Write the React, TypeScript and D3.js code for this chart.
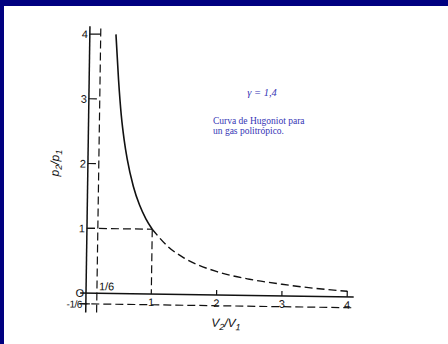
import React from "react";
import * as d3 from "d3";

// Hugoniot curve for a polytropic gas (gamma = 1.4), read in two pieces:
// the strong-shock branch (solid) and the expansion branch (dashed).
const vSolid = [0.4, 0.45, 0.5, 0.55, 0.6, 0.7, 0.8, 0.9, 1.0];
const pSolid = [4.0, 3.3, 2.75, 2.37, 2.08, 1.66, 1.37, 1.16, 1.0];
const vDashed = [1.0, 1.25, 1.5, 2.0, 2.5, 3.0, 3.5, 4.0];
const pDashed = [1.0, 0.73, 0.56, 0.36, 0.25, 0.18, 0.125, 0.087];

const xTicks = [1, 2, 3, 4];
const yTicks = [1, 2, 3, 4];
const yTickLabels = ["1", "2", "3", "4"];
const xTickLabels = ["1", "2", "3", "4"];

const W = 448;
const H = 344;
const ox = 86;
const oy = 293;
const unitX = 65.3;
const unitY = 64.75;

export default function App() {
  const x = d3.scaleLinear().domain([0, 4]).range([ox, ox + 4 * unitX]);
  const y = d3.scaleLinear().domain([0, 4]).range([oy, oy - 4 * unitY]);

  const line = d3
    .line<[number, number]>()
    .x((d) => x(d[0]))
    .y((d) => y(d[1]))
    .curve(d3.curveMonotoneX);

  const solidPts = vSolid.map((v, i) => [v, pSolid[i]] as [number, number]);
  const dashedPts = vDashed.map((v, i) => [v, pDashed[i]] as [number, number]);

  const ink = "#111";
  const dash = "8 4";
  const sixth = 1 / 6;
  const axisFont = "Liberation Sans, Arial, sans-serif";
  const noteColor = "#3535b5";

  return (
    <svg
      width={W}
      height={H}
      style={{ position: "absolute", left: 0, top: 0, display: "block" }}
    >
      <rect x={0} y={0} width={W} height={H} fill="#000080" />
      <rect x={4} y={6} width={W - 4} height={H - 6} fill="#ffffff" />

      <g transform={`rotate(0.85 ${ox} ${oy})`}>
        {/* axes */}
        <line x1={x(0)} y1={y(-0.3)} x2={x(0)} y2={y(4.12)} stroke={ink} strokeWidth={1.5} />
        <line x1={x(-0.09)} y1={y(0)} x2={x(4.1)} y2={y(0)} stroke={ink} strokeWidth={1.5} />

        {/* reference dashed lines */}
        <line x1={x(sixth)} y1={y(-0.3)} x2={x(sixth)} y2={y(4.12)} stroke={ink} strokeWidth={1.2} strokeDasharray={dash} />
        <line x1={x(-0.1)} y1={y(-sixth)} x2={x(4.1)} y2={y(-sixth)} stroke={ink} strokeWidth={1.2} strokeDasharray={dash} />
        <line x1={x(0)} y1={y(1)} x2={x(1)} y2={y(1)} stroke={ink} strokeWidth={1.2} strokeDasharray={dash} />
        <line x1={x(1)} y1={y(1)} x2={x(1)} y2={y(0)} stroke={ink} strokeWidth={1.2} strokeDasharray={dash} />

        {/* y ticks */}
        {yTicks.map((t, i) => (
          <g key={`yt${t}`}>
            <line x1={x(0)} y1={y(t)} x2={x(0) + (t === 4 ? 11 : 8)} y2={y(t)} stroke={ink} strokeWidth={1.2} />
            <text x={x(0) - 2} y={y(t) + 4} textAnchor="end" fontSize={11} fontFamily={axisFont} fill={ink}>
              {yTickLabels[i]}
            </text>
          </g>
        ))}
        <line x1={x(0) - 4} y1={y(-sixth)} x2={x(0) + 4} y2={y(-sixth)} stroke={ink} strokeWidth={1.2} />
        <text x={x(0) - 2} y={y(0) + 4} textAnchor="end" fontSize={11} fontFamily={axisFont} fill={ink}>
          O
        </text>
        <text x={x(0) - 4} y={y(-sixth) + 4} textAnchor="end" fontSize={10} fontFamily={axisFont} fill={ink} letterSpacing={-0.5}>
          -1/6
        </text>
        <text x={x(sixth) + 2} y={y(0) - 3} fontSize={11} fontFamily={axisFont} fill={ink}>
          1/6
        </text>

        {/* x ticks */}
        {xTicks.map((t, i) => (
          <g key={`xt${t}`}>
            {t > 1 && (
              <line x1={x(t)} y1={y(0)} x2={x(t)} y2={y(0) - (t === 4 ? 6 : 5)} stroke={ink} strokeWidth={1.2} />
            )}
            <text x={x(t)} y={y(0) + 12} textAnchor="middle" fontSize={11} fontFamily={axisFont} fill={ink}>
              {xTickLabels[i]}
            </text>
          </g>
        ))}

        {/* Hugoniot curve */}
        <path d={line(solidPts) ?? ""} fill="none" stroke={ink} strokeWidth={1.6} />
        <path d={line(dashedPts) ?? ""} fill="none" stroke={ink} strokeWidth={1.4} strokeDasharray={dash} />

        {/* axis titles */}
        <text
          transform={`translate(57 ${y(2)}) rotate(-90)`}
          textAnchor="middle"
          fontSize={12}
          fontStyle="italic"
          fontFamily={axisFont}
          fill={ink}
        >
          p<tspan fontSize={9} dy={3}>2</tspan>
          <tspan dy={-3}>/p</tspan>
          <tspan fontSize={9} dy={3}>1</tspan>
        </text>
        <text x={x(2.15)} y={oy + 32} textAnchor="middle" fontSize={12} fontStyle="italic" fontFamily={axisFont} fill={ink}>
          V<tspan fontSize={9} dy={3}>2</tspan>
          <tspan dy={-3}>/V</tspan>
          <tspan fontSize={9} dy={3}>1</tspan>
        </text>
      </g>

      {/* annotations */}
      <text x={262} y={96} textAnchor="middle" fontSize={10.5} fontStyle="italic" fontFamily="Liberation Serif, serif" fill={noteColor}>
        γ = 1,4
      </text>
      <text x={213} y={124} fontSize={9.5} fontFamily="Liberation Serif, serif" fill={noteColor}>
        Curva de Hugoniot para
      </text>
      <text x={213} y={134} fontSize={9.5} fontFamily="Liberation Serif, serif" fill={noteColor}>
        un gas politrópico.
      </text>
    </svg>
  );
}
